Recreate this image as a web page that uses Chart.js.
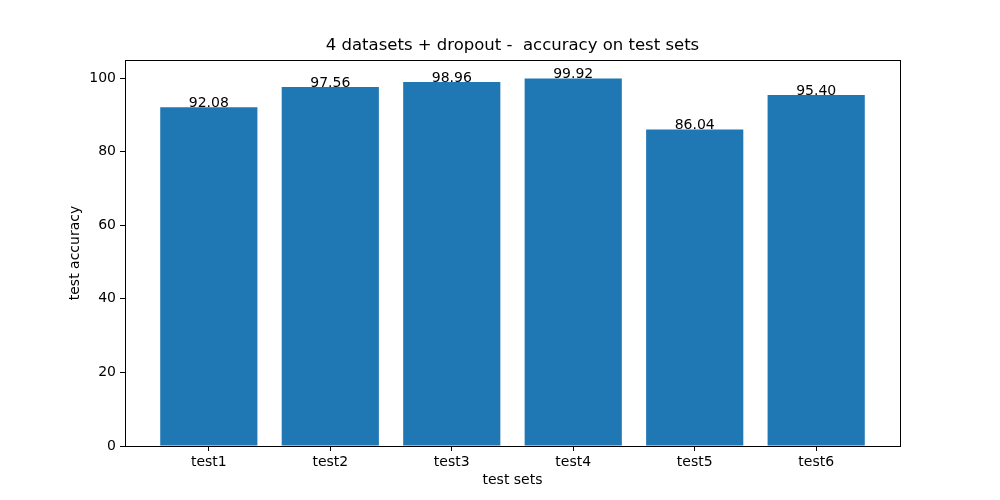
<!DOCTYPE html>
<html>
<head>
<meta charset="utf-8">
<script src="https://cdn.jsdelivr.net/npm/chart.js@4"></script>
<style>
  html, body { margin: 0; padding: 0; background: #fff; }
  #wrap { width: 1000px; height: 500px; }
</style>
</head>
<body>
<div id="wrap"><canvas id="chart" width="1000" height="500"></canvas></div>
<script>
// chart data
const categories = ['test1', 'test2', 'test3', 'test4', 'test5', 'test6'];
const accuracy = [92.08, 97.56, 98.96, 99.92, 86.04, 95.40];
const yTicks = [0, 20, 40, 60, 80, 100];

const FONT = 'DejaVu Sans';
const barColor = '#1f77b4';

// value labels, title and the box round the axes
const decorations = {
    id: 'decorations',
    afterDatasetsDraw(chart) {
        const ctx = chart.ctx;
        const area = chart.chartArea;
        ctx.save();
        ctx.fillStyle = '#000';
        ctx.font = '14px "' + FONT + '"';
        ctx.textAlign = 'center';
        ctx.textBaseline = 'alphabetic';
        chart.getDatasetMeta(0).data.forEach((bar, i) => {
            ctx.fillText(accuracy[i].toFixed(2), bar.x, bar.y);
        });

        ctx.strokeStyle = '#000';
        ctx.lineWidth = 1;
        ctx.strokeRect(area.left + 0.5, area.top + 0.5, area.right - area.left, area.bottom - area.top);

        ctx.font = '16.5px "' + FONT + '"';
        ctx.textBaseline = 'middle';
        ctx.fillText('4 datasets + dropout -  accuracy on test sets', (area.left + area.right) / 2, 46);
        ctx.restore();
    }
};

const ctx = document.getElementById('chart').getContext('2d');
const chart = new Chart(ctx, {
    type: 'bar',
    data: {
        datasets: [{
            data: accuracy.map((v, i) => ({ x: i, y: v })),
            backgroundColor: barColor,
            borderColor: barColor,
            borderWidth: 0,
            barPercentage: 0.8,
            categoryPercentage: 1.0
        }]
    },
    options: {
        responsive: false,
        animation: false,
        devicePixelRatio: 1,
        layout: { padding: { left: 63, right: 100, top: 60, bottom: 0 } },
        plugins: {
            legend: { display: false },
            tooltip: { enabled: false }
        },
        scales: {
            x: {
                type: 'linear',
                offset: false,
                min: -0.69,
                max: 5.69,
                afterBuildTicks: (scale) => {
                    scale.ticks = categories.map((c, i) => ({ value: i }));
                },
                afterFit: (scale) => { scale.height = 54; },
                ticks: {
                    color: '#000',
                    font: { family: FONT, size: 14 },
                    padding: 3,
                    maxRotation: 0,
                    autoSkip: false,
                    callback: (v) => categories[v]
                },
                grid: { offset: false, drawOnChartArea: false, drawTicks: true, tickLength: 5, color: '#000' },
                border: { display: false },
                title: {
                    display: true,
                    text: 'test sets',
                    color: '#000',
                    font: { family: FONT, size: 14 },
                    padding: { top: 0, bottom: 11 }
                }
            },
            y: {
                min: 0,
                max: 104.916,
                afterBuildTicks: (scale) => {
                    scale.ticks = yTicks.map(v => ({ value: v }));
                },
                afterFit: (scale) => { scale.width = 62; },
                ticks: {
                    color: '#000',
                    font: { family: FONT, size: 14 },
                    padding: 4
                },
                grid: { drawOnChartArea: false, drawTicks: true, tickLength: 5, color: '#000' },
                border: { display: false },
                title: {
                    display: true,
                    text: 'test accuracy',
                    color: '#000',
                    font: { family: FONT, size: 14 },
                    padding: { top: 4, bottom: 0 }
                }
            }
        }
    },
    plugins: [decorations]
});
</script>
</body>
</html>
